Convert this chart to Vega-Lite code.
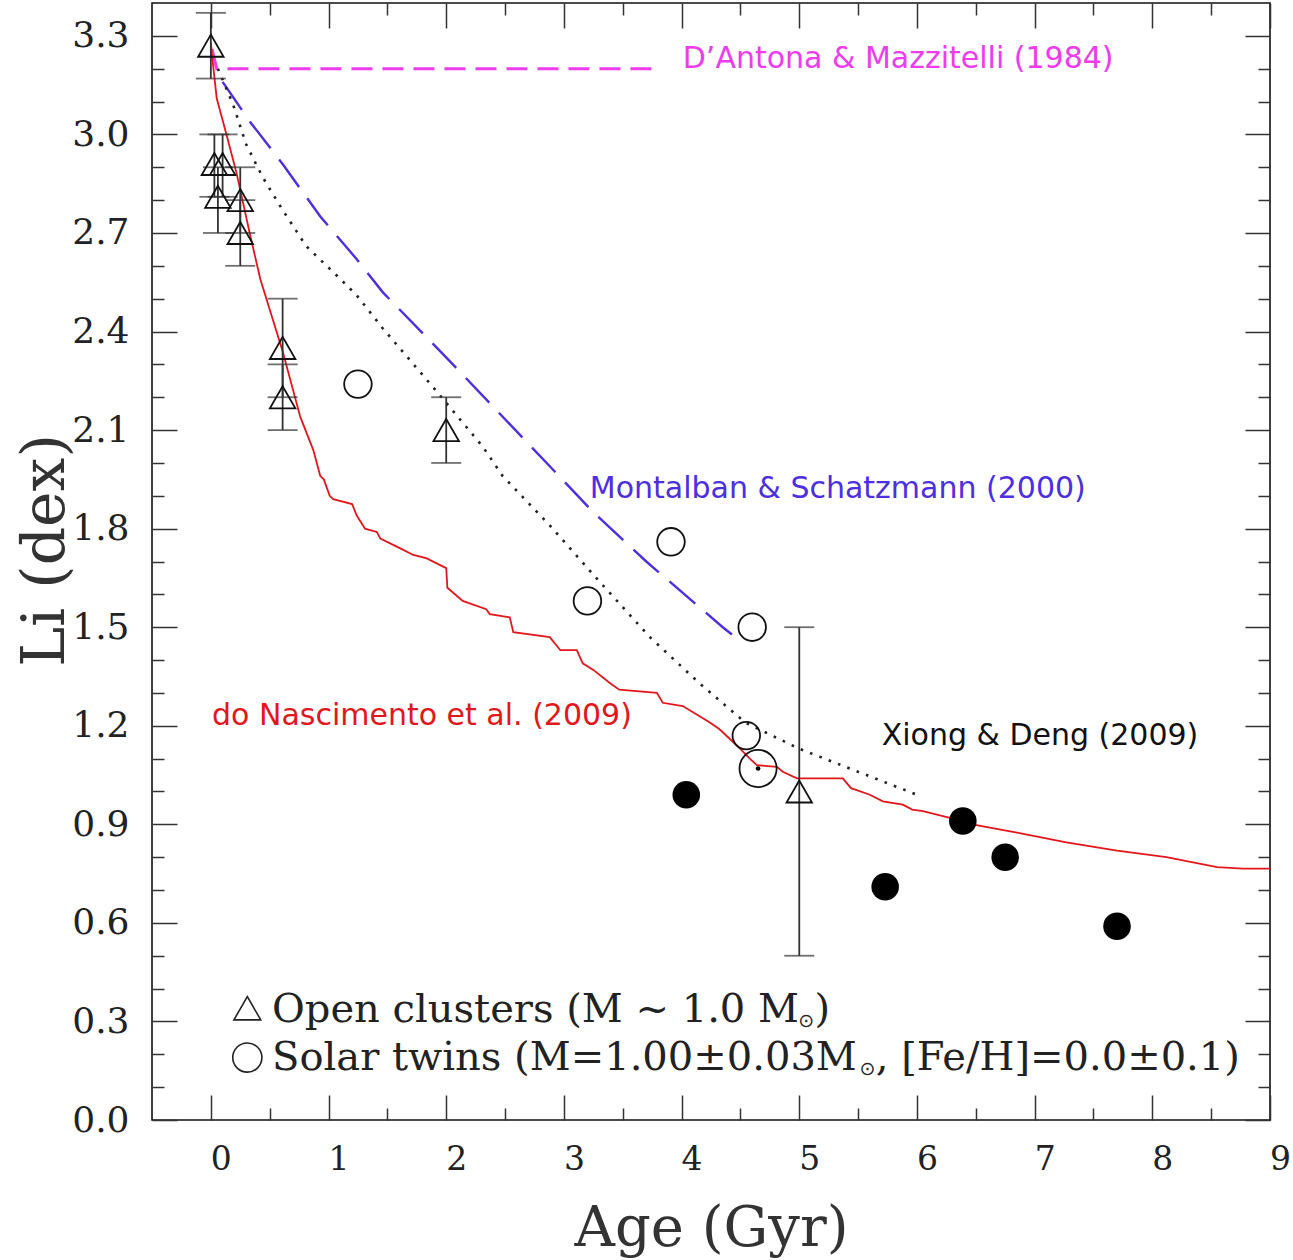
{
  "$schema": "https://vega.github.io/schema/vega-lite/v6.json",
  "width": 1118,
  "height": 1117,
  "autosize": {"type": "none"},
  "padding": {"left": 152, "top": 3, "right": 23, "bottom": 140},
  "background": "white",
  "config": {
    "view": {"stroke": "#111", "strokeWidth": 1.6},
    "axis": {
      "domain": false, "grid": false,
      "labelFont": "DejaVu Serif", "titleFont": "DejaVu Serif",
      "tickColor": "#333", "tickWidth": 1.5,
      "labelColor": "#222", "titleColor": "#333", "titleFontWeight": "normal",
      "labelOverlap": false, "labelFlush": false
    }
  },
  "datasets": {
    "dm": [
      {"age": 0.01, "li": 3.26}, {"age": 0.05, "li": 3.2}, {"age": 3.75, "li": 3.2}
    ],
    "ms": [
      {"age": 0.1, "li": 3.16}, {"age": 0.33, "li": 3.04}, {"age": 0.61, "li": 2.91},
      {"age": 0.93, "li": 2.75}, {"age": 1.24, "li": 2.62}, {"age": 1.46, "li": 2.52},
      {"age": 2.03, "li": 2.31}, {"age": 2.88, "li": 1.99}, {"age": 3.25, "li": 1.85},
      {"age": 3.7, "li": 1.7}, {"age": 4.35, "li": 1.5}, {"age": 4.49, "li": 1.46}
    ],
    "xd": [
      {"age": 0.06, "li": 3.2}, {"age": 0.19, "li": 3.09}, {"age": 0.3, "li": 2.97},
      {"age": 0.44, "li": 2.87}, {"age": 0.61, "li": 2.77}, {"age": 0.81, "li": 2.66},
      {"age": 1.1, "li": 2.56}, {"age": 1.24, "li": 2.51}, {"age": 1.46, "li": 2.41},
      {"age": 1.89, "li": 2.23}, {"age": 2.31, "li": 2.05}, {"age": 2.48, "li": 1.96},
      {"age": 2.88, "li": 1.81}, {"age": 3.3, "li": 1.64}, {"age": 3.73, "li": 1.47},
      {"age": 4.15, "li": 1.33}, {"age": 4.54, "li": 1.21}, {"age": 5.0, "li": 1.13},
      {"age": 6.0, "li": 0.99}
    ],
    "dn": [
      {"age": 0.0, "li": 3.28}, {"age": 0.01, "li": 3.24}, {"age": 0.05, "li": 3.11},
      {"age": 0.14, "li": 2.99}, {"age": 0.22, "li": 2.88}, {"age": 0.33, "li": 2.7},
      {"age": 0.42, "li": 2.56}, {"age": 0.61, "li": 2.34}, {"age": 0.76, "li": 2.14},
      {"age": 0.87, "li": 2.04}, {"age": 0.93, "li": 1.96}, {"age": 0.96, "li": 1.95},
      {"age": 1.01, "li": 1.9}, {"age": 1.04, "li": 1.89}, {"age": 1.2, "li": 1.875},
      {"age": 1.24, "li": 1.84}, {"age": 1.31, "li": 1.8}, {"age": 1.41, "li": 1.79},
      {"age": 1.44, "li": 1.77}, {"age": 1.61, "li": 1.74}, {"age": 1.72, "li": 1.72},
      {"age": 1.83, "li": 1.71}, {"age": 2.0, "li": 1.68}, {"age": 2.01, "li": 1.62},
      {"age": 2.14, "li": 1.58}, {"age": 2.34, "li": 1.555}, {"age": 2.37, "li": 1.54},
      {"age": 2.54, "li": 1.53}, {"age": 2.57, "li": 1.485}, {"age": 2.88, "li": 1.47},
      {"age": 2.97, "li": 1.43}, {"age": 3.11, "li": 1.43}, {"age": 3.16, "li": 1.39},
      {"age": 3.25, "li": 1.37}, {"age": 3.39, "li": 1.33}, {"age": 3.47, "li": 1.31},
      {"age": 3.79, "li": 1.3}, {"age": 3.84, "li": 1.27}, {"age": 4.01, "li": 1.26},
      {"age": 4.15, "li": 1.23}, {"age": 4.24, "li": 1.21}, {"age": 4.32, "li": 1.19},
      {"age": 4.47, "li": 1.14}, {"age": 4.58, "li": 1.1}, {"age": 4.64, "li": 1.08},
      {"age": 4.81, "li": 1.075}, {"age": 4.86, "li": 1.06}, {"age": 4.98, "li": 1.04},
      {"age": 5.37, "li": 1.04}, {"age": 5.44, "li": 1.01}, {"age": 5.6, "li": 0.99},
      {"age": 5.71, "li": 0.97}, {"age": 5.88, "li": 0.96}, {"age": 5.96, "li": 0.945},
      {"age": 6.05, "li": 0.94}, {"age": 6.28, "li": 0.92}, {"age": 6.39, "li": 0.905},
      {"age": 6.85, "li": 0.875}, {"age": 7.27, "li": 0.845}, {"age": 7.7, "li": 0.82},
      {"age": 8.12, "li": 0.8}, {"age": 8.55, "li": 0.77}, {"age": 8.77, "li": 0.765},
      {"age": 9.0, "li": 0.765}
    ],
    "clusters": [
      {"age": 0.0, "li": 3.27, "lo": 3.17, "hi": 3.37},
      {"age": 0.03, "li": 2.91, "lo": 2.81, "hi": 3.0},
      {"age": 0.1, "li": 2.91, "lo": 2.81, "hi": 3.0},
      {"age": 0.06, "li": 2.81, "lo": 2.7, "hi": 2.9},
      {"age": 0.25, "li": 2.8, "lo": 2.7, "hi": 2.9},
      {"age": 0.25, "li": 2.7, "lo": 2.6, "hi": 2.8},
      {"age": 0.61, "li": 2.35, "lo": 2.2, "hi": 2.5},
      {"age": 0.61, "li": 2.2, "lo": 2.1, "hi": 2.3},
      {"age": 2.0, "li": 2.1, "lo": 2.0, "hi": 2.2},
      {"age": 5.0, "li": 1.0, "lo": 0.5, "hi": 1.5}
    ],
    "twins": [
      {"age": 1.25, "li": 2.24}, {"age": 3.2, "li": 1.58}, {"age": 3.91, "li": 1.76},
      {"age": 4.6, "li": 1.5}, {"age": 4.55, "li": 1.17}
    ],
    "sun": [{"age": 4.65, "li": 1.07}],
    "filled": [
      {"age": 4.04, "li": 0.99}, {"age": 5.73, "li": 0.71}, {"age": 6.39, "li": 0.91},
      {"age": 6.75, "li": 0.8}, {"age": 7.7, "li": 0.59}
    ]
  },
  "resolve": {"axis": {"x": "independent", "y": "independent"}},
  "layer": [
    {
      "data": {"name": "dm"},
      "mark": {"type": "line", "color": "#ee3bee", "strokeWidth": 3, "strokeDash": [21, 10]},
      "encoding": {
        "x": {"field": "age", "type": "quantitative",
          "scale": {"domain": [-0.5, 9], "nice": false, "zero": false},
          "axis": {"orient": "bottom", "values": [0,1,2,3,4,5,6,7,8,9], "format": "d",
            "tickSize": -25, "labelPadding": 48, "labelFontSize": 33, "labelOffset": 10,
            "title": "Age (Gyr)", "titleFontSize": 56, "titleY": 125, "titleBaseline": "alphabetic"}},
        "y": {"field": "li", "type": "quantitative",
          "scale": {"domain": [0, 3.4], "nice": false, "zero": false},
          "axis": {"orient": "left", "values": [0,0.3,0.6,0.9,1.2,1.5,1.8,2.1,2.4,2.7,3.0,3.3], "format": ".1f",
            "tickSize": -25, "labelPadding": 48, "labelFontSize": 36,
            "title": "Li (dex)", "titleFontSize": 60, "titleX": -107, "titleY": 547,
            "titleAngle": 270, "titleBaseline": "middle", "titleAlign": "center"}}
      }
    },
    {
      "data": {"name": "ms"},
      "mark": {"type": "line", "color": "#4c2fe0", "strokeWidth": 2.4, "strokeDash": [34, 14]},
      "encoding": {
        "x": {"field": "age", "type": "quantitative",
          "scale": {"domain": [-0.5, 9], "nice": false, "zero": false},
          "axis": {"orient": "bottom", "values": [0.5,1.5,2.5,3.5,4.5,5.5,6.5,7.5,8.5],
            "tickSize": -12, "labels": false, "title": null}},
        "y": {"field": "li", "type": "quantitative",
          "scale": {"domain": [0, 3.4], "nice": false, "zero": false},
          "axis": {"orient": "left", "values": [0.1,0.2,0.4,0.5,0.7,0.8,1.0,1.1,1.3,1.4,1.6,1.7,1.9,2.0,2.2,2.3,2.5,2.6,2.8,2.9,3.1,3.2],
            "tickSize": -12, "labels": false, "title": null}}
      }
    },
    {
      "data": {"name": "xd"},
      "mark": {"type": "line", "color": "#222", "strokeWidth": 2.6, "strokeDash": [2.6, 7.4]},
      "encoding": {
        "x": {"field": "age", "type": "quantitative",
          "scale": {"domain": [-0.5, 9], "nice": false, "zero": false},
          "axis": {"orient": "top", "values": [0,1,2,3,4,5,6,7,8,9],
            "tickSize": -25, "labels": false, "title": null}},
        "y": {"field": "li", "type": "quantitative",
          "scale": {"domain": [0, 3.4], "nice": false, "zero": false},
          "axis": {"orient": "right", "values": [0,0.3,0.6,0.9,1.2,1.5,1.8,2.1,2.4,2.7,3.0,3.3],
            "tickSize": -25, "labels": false, "title": null}}
      }
    },
    {
      "data": {"name": "dn"},
      "mark": {"type": "line", "color": "#e3161b", "strokeWidth": 1.8},
      "encoding": {
        "x": {"field": "age", "type": "quantitative",
          "scale": {"domain": [-0.5, 9], "nice": false, "zero": false},
          "axis": {"orient": "top", "values": [0.5,1.5,2.5,3.5,4.5,5.5,6.5,7.5,8.5],
            "tickSize": -12, "labels": false, "title": null}},
        "y": {"field": "li", "type": "quantitative",
          "scale": {"domain": [0, 3.4], "nice": false, "zero": false},
          "axis": {"orient": "right", "values": [0.1,0.2,0.4,0.5,0.7,0.8,1.0,1.1,1.3,1.4,1.6,1.7,1.9,2.0,2.2,2.3,2.5,2.6,2.8,2.9,3.1,3.2],
            "tickSize": -12, "labels": false, "title": null}}
      }
    },
    {
      "data": {"name": "clusters"},
      "mark": {"type": "rule", "color": "#333", "strokeWidth": 1.8},
      "encoding": {
        "x": {"field": "age", "type": "quantitative", "scale": {"domain": [-0.5, 9], "nice": false, "zero": false}, "axis": null},
        "y": {"field": "lo", "type": "quantitative", "scale": {"domain": [0, 3.4], "nice": false, "zero": false}, "axis": null},
        "y2": {"field": "hi"}
      }
    },
    {
      "data": {"name": "clusters"},
      "mark": {"type": "tick", "orient": "horizontal", "color": "#333", "size": 30, "thickness": 1.8},
      "encoding": {
        "x": {"field": "age", "type": "quantitative", "scale": {"domain": [-0.5, 9], "nice": false, "zero": false}, "axis": null},
        "y": {"field": "lo", "type": "quantitative", "scale": {"domain": [0, 3.4], "nice": false, "zero": false}, "axis": null}
      }
    },
    {
      "data": {"name": "clusters"},
      "mark": {"type": "tick", "orient": "horizontal", "color": "#333", "size": 30, "thickness": 1.8},
      "encoding": {
        "x": {"field": "age", "type": "quantitative", "scale": {"domain": [-0.5, 9], "nice": false, "zero": false}, "axis": null},
        "y": {"field": "hi", "type": "quantitative", "scale": {"domain": [0, 3.4], "nice": false, "zero": false}, "axis": null}
      }
    },
    {
      "data": {"name": "clusters"},
      "mark": {"type": "point", "shape": "triangle-up", "filled": false, "color": "#111", "strokeWidth": 1.8, "size": 650, "opacity": 1},
      "encoding": {
        "x": {"field": "age", "type": "quantitative", "scale": {"domain": [-0.5, 9], "nice": false, "zero": false}, "axis": null},
        "y": {"field": "li", "type": "quantitative", "scale": {"domain": [0, 3.4], "nice": false, "zero": false}, "axis": null}
      }
    },
    {
      "data": {"name": "twins"},
      "mark": {"type": "point", "shape": "circle", "filled": false, "color": "#111", "strokeWidth": 1.8, "size": 760, "opacity": 1},
      "encoding": {
        "x": {"field": "age", "type": "quantitative", "scale": {"domain": [-0.5, 9], "nice": false, "zero": false}, "axis": null},
        "y": {"field": "li", "type": "quantitative", "scale": {"domain": [0, 3.4], "nice": false, "zero": false}, "axis": null}
      }
    },
    {
      "data": {"name": "sun"},
      "mark": {"type": "point", "shape": "circle", "filled": false, "color": "#111", "strokeWidth": 1.8, "size": 1380, "opacity": 1},
      "encoding": {
        "x": {"field": "age", "type": "quantitative", "scale": {"domain": [-0.5, 9], "nice": false, "zero": false}, "axis": null},
        "y": {"field": "li", "type": "quantitative", "scale": {"domain": [0, 3.4], "nice": false, "zero": false}, "axis": null}
      }
    },
    {
      "data": {"name": "sun"},
      "mark": {"type": "point", "shape": "circle", "filled": true, "color": "#000", "size": 22, "opacity": 1},
      "encoding": {
        "x": {"field": "age", "type": "quantitative", "scale": {"domain": [-0.5, 9], "nice": false, "zero": false}, "axis": null},
        "y": {"field": "li", "type": "quantitative", "scale": {"domain": [0, 3.4], "nice": false, "zero": false}, "axis": null}
      }
    },
    {
      "data": {"name": "filled"},
      "mark": {"type": "point", "shape": "circle", "filled": true, "color": "#000", "size": 760, "opacity": 1},
      "encoding": {
        "x": {"field": "age", "type": "quantitative", "scale": {"domain": [-0.5, 9], "nice": false, "zero": false}, "axis": null},
        "y": {"field": "li", "type": "quantitative", "scale": {"domain": [0, 3.4], "nice": false, "zero": false}, "axis": null}
      }
    },
    {
      "data": {"values": [{"age": 4.01, "li": 3.23, "label": "D’Antona & Mazzitelli (1984)"}]},
      "mark": {"type": "text", "align": "left", "baseline": "middle", "font": "DejaVu Sans", "fontSize": 30, "color": "#ee3bee"},
      "encoding": {
        "x": {"field": "age", "type": "quantitative", "scale": {"domain": [-0.5, 9], "nice": false, "zero": false}, "axis": null},
        "y": {"field": "li", "type": "quantitative", "scale": {"domain": [0, 3.4], "nice": false, "zero": false}, "axis": null},
        "text": {"field": "label"}
      }
    },
    {
      "data": {"values": [{"age": 3.22, "li": 1.92, "label": "Montalban & Schatzmann (2000)"}]},
      "mark": {"type": "text", "align": "left", "baseline": "middle", "font": "DejaVu Sans", "fontSize": 30, "color": "#4c2fe0"},
      "encoding": {
        "x": {"field": "age", "type": "quantitative", "scale": {"domain": [-0.5, 9], "nice": false, "zero": false}, "axis": null},
        "y": {"field": "li", "type": "quantitative", "scale": {"domain": [0, 3.4], "nice": false, "zero": false}, "axis": null},
        "text": {"field": "label"}
      }
    },
    {
      "data": {"values": [{"age": 0.01, "li": 1.23, "label": "do Nascimento et al. (2009)"}]},
      "mark": {"type": "text", "align": "left", "baseline": "middle", "font": "DejaVu Sans", "fontSize": 30, "color": "#e3161b"},
      "encoding": {
        "x": {"field": "age", "type": "quantitative", "scale": {"domain": [-0.5, 9], "nice": false, "zero": false}, "axis": null},
        "y": {"field": "li", "type": "quantitative", "scale": {"domain": [0, 3.4], "nice": false, "zero": false}, "axis": null},
        "text": {"field": "label"}
      }
    },
    {
      "data": {"values": [{"age": 5.7, "li": 1.17, "label": "Xiong & Deng (2009)"}]},
      "mark": {"type": "text", "align": "left", "baseline": "middle", "font": "DejaVu Sans", "fontSize": 30, "color": "#111"},
      "encoding": {
        "x": {"field": "age", "type": "quantitative", "scale": {"domain": [-0.5, 9], "nice": false, "zero": false}, "axis": null},
        "y": {"field": "li", "type": "quantitative", "scale": {"domain": [0, 3.4], "nice": false, "zero": false}, "axis": null},
        "text": {"field": "label"}
      }
    },
    {
      "data": {"values": [{"age": 0.31, "li": 0.34}]},
      "mark": {"type": "point", "shape": "triangle-up", "filled": false, "color": "#222", "strokeWidth": 1.6, "size": 720, "opacity": 1},
      "encoding": {
        "x": {"field": "age", "type": "quantitative", "scale": {"domain": [-0.5, 9], "nice": false, "zero": false}, "axis": null},
        "y": {"field": "li", "type": "quantitative", "scale": {"domain": [0, 3.4], "nice": false, "zero": false}, "axis": null}
      }
    },
    {
      "data": {"values": [{"age": 0.31, "li": 0.19}]},
      "mark": {"type": "point", "shape": "circle", "filled": false, "color": "#222", "strokeWidth": 1.6, "size": 850, "opacity": 1},
      "encoding": {
        "x": {"field": "age", "type": "quantitative", "scale": {"domain": [-0.5, 9], "nice": false, "zero": false}, "axis": null},
        "y": {"field": "li", "type": "quantitative", "scale": {"domain": [0, 3.4], "nice": false, "zero": false}, "axis": null}
      }
    },
    {
      "data": {"values": [
        {"age": 0.52, "li": 0.335, "label": "Open clusters (M ~ 1.0 M"},
        {"age": 0.52, "li": 0.189, "label": "Solar twins (M=1.00±0.03M"}
      ]},
      "mark": {"type": "text", "align": "left", "baseline": "middle", "font": "DejaVu Serif", "fontSize": 40, "color": "#222"},
      "encoding": {
        "x": {"field": "age", "type": "quantitative", "scale": {"domain": [-0.5, 9], "nice": false, "zero": false}, "axis": null},
        "y": {"field": "li", "type": "quantitative", "scale": {"domain": [0, 3.4], "nice": false, "zero": false}, "axis": null},
        "text": {"field": "label"}
      }
    },
    {
      "data": {"values": [
        {"age": 5.06, "li": 0.3, "label": "⊙"},
        {"age": 5.58, "li": 0.155, "label": "⊙"}
      ]},
      "mark": {"type": "text", "align": "center", "baseline": "middle", "font": "DejaVu Sans", "fontSize": 19, "color": "#222"},
      "encoding": {
        "x": {"field": "age", "type": "quantitative", "scale": {"domain": [-0.5, 9], "nice": false, "zero": false}, "axis": null},
        "y": {"field": "li", "type": "quantitative", "scale": {"domain": [0, 3.4], "nice": false, "zero": false}, "axis": null},
        "text": {"field": "label"}
      }
    },
    {
      "data": {"values": [
        {"age": 5.13, "li": 0.335, "label": ")"},
        {"age": 5.65, "li": 0.189, "label": ", [Fe/H]=0.0±0.1)"}
      ]},
      "mark": {"type": "text", "align": "left", "baseline": "middle", "font": "DejaVu Serif", "fontSize": 40, "color": "#222"},
      "encoding": {
        "x": {"field": "age", "type": "quantitative", "scale": {"domain": [-0.5, 9], "nice": false, "zero": false}, "axis": null},
        "y": {"field": "li", "type": "quantitative", "scale": {"domain": [0, 3.4], "nice": false, "zero": false}, "axis": null},
        "text": {"field": "label"}
      }
    }
  ]
}
